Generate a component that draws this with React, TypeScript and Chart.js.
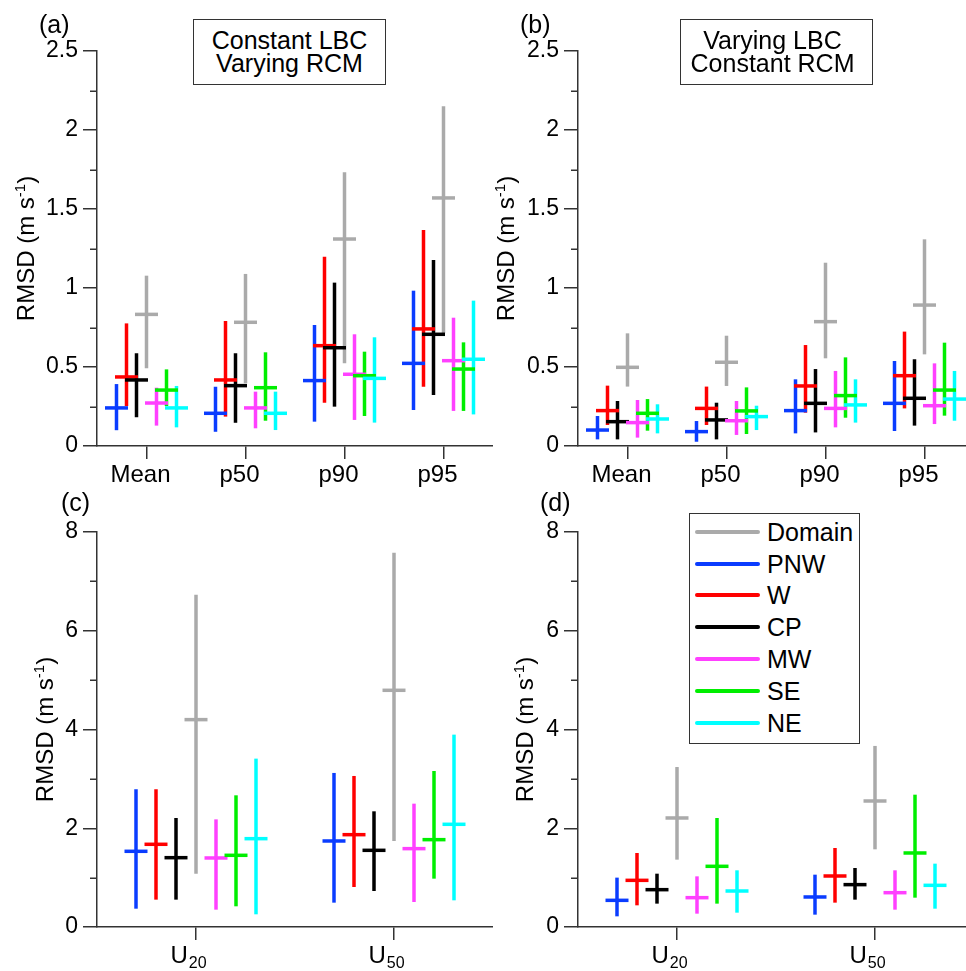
import React, { useEffect, useRef } from 'react';
import { Chart, registerables } from 'chart.js';

Chart.register(...registerables);

const FONT = "'Liberation Sans', Arial, Helvetica, sans-serif";
const AXIS = '#333333';

// ---- categories ----
const statCategories = ['Mean', 'p50', 'p90', 'p95'];
const windCategories = ['U20', 'U50'];

// series as placed left-to-right inside each category group
const seriesNames = ['PNW', 'W', 'CP', 'Domain', 'MW', 'SE', 'NE'];
const seriesColors = ['#0a3cff', '#ff0000', '#000000', '#aaaaaa', '#ff40ff', '#00ee00', '#00ffff'];
// legend order
const legendNames = ['Domain', 'PNW', 'W', 'CP', 'MW', 'SE', 'NE'];

// ---- panel (a): Constant LBC / Varying RCM  (rows follow seriesNames; cols Mean, p50, p90, p95) ----
const aMin = [
  [0.10, 0.09, 0.154, 0.228],
  [0.253, 0.186, 0.274, 0.375],
  [0.182, 0.147, 0.249, 0.323],
  [0.492, 0.397, 0.523, 0.713],
  [0.129, 0.112, 0.165, 0.222],
  [0.253, 0.16, 0.19, 0.222],
  [0.118, 0.101, 0.148, 0.2],
];
const aMax = [
  [0.392, 0.375, 0.766, 0.983],
  [0.776, 0.791, 1.198, 1.367],
  [0.587, 0.587, 1.034, 1.177],
  [1.078, 1.089, 1.732, 2.15],
  [0.369, 0.344, 0.707, 0.812],
  [0.485, 0.593, 0.597, 0.656],
  [0.38, 0.344, 0.688, 0.92],
];
const aMean = [
  [0.241, 0.207, 0.414, 0.523],
  [0.437, 0.418, 0.635, 0.741],
  [0.418, 0.382, 0.622, 0.707],
  [0.833, 0.783, 1.31, 1.57],
  [0.272, 0.241, 0.454, 0.54],
  [0.354, 0.369, 0.445, 0.487],
  [0.241, 0.207, 0.428, 0.549],
];

// ---- panel (b): Varying LBC / Constant RCM ----
const bMin = [
  [0.042, 0.027, 0.08, 0.095],
  [0.133, 0.133, 0.211, 0.238],
  [0.042, 0.042, 0.086, 0.129],
  [0.376, 0.38, 0.555, 0.58],
  [0.053, 0.07, 0.118, 0.139],
  [0.097, 0.076, 0.179, 0.192],
  [0.08, 0.101, 0.148, 0.16],
];
const bMax = [
  [0.19, 0.158, 0.422, 0.538],
  [0.382, 0.376, 0.639, 0.724],
  [0.285, 0.274, 0.487, 0.549],
  [0.713, 0.698, 1.16, 1.308],
  [0.291, 0.285, 0.475, 0.523],
  [0.297, 0.371, 0.561, 0.654],
  [0.264, 0.255, 0.422, 0.475],
];
const bMean = [
  [0.101, 0.091, 0.224, 0.27],
  [0.224, 0.238, 0.38, 0.445],
  [0.154, 0.165, 0.27, 0.302],
  [0.498, 0.53, 0.787, 0.892],
  [0.148, 0.16, 0.238, 0.255],
  [0.207, 0.222, 0.319, 0.354],
  [0.171, 0.186, 0.26, 0.297],
];

// ---- panel (c) (cols U20, U50) ----
const cMin = [
  [0.371, 0.493],
  [0.554, 0.81],
  [0.554, 0.729],
  [1.08, 1.742],
  [0.351, 0.506],
  [0.419, 0.979],
  [0.257, 0.54],
];
const cMax = [
  [2.79, 3.12],
  [2.79, 3.059],
  [2.208, 2.343],
  [6.73, 7.58],
  [2.18, 2.498],
  [2.667, 3.16],
  [3.41, 3.896],
];
const cMean = [
  [1.533, 1.742],
  [1.675, 1.87],
  [1.404, 1.553],
  [4.2, 4.794],
  [1.398, 1.587],
  [1.452, 1.769],
  [1.789, 2.08],
];

// ---- panel (d) ----
const dMin = [
  [0.216, 0.25],
  [0.439, 0.493],
  [0.473, 0.554],
  [1.364, 1.573],
  [0.27, 0.351],
  [0.473, 0.594],
  [0.29, 0.371],
];
const dMax = [
  [1.0, 1.06],
  [1.499, 1.6],
  [1.08, 1.195],
  [3.24, 3.667],
  [1.026, 1.148],
  [2.208, 2.68],
  [1.148, 1.283],
];
const dMean = [
  [0.54, 0.608],
  [0.945, 1.033],
  [0.756, 0.858],
  [2.208, 2.552],
  [0.594, 0.695],
  [1.229, 1.499],
  [0.729, 0.844],
];

type PanelProps = {
  left: number;
  top: number;
  width: number;
  height: number;
  yAxisWidth: number;
  padTop: number;
  xAxisHeight: number;
  categories: string[];
  mins: number[][];
  maxs: number[][];
  means: number[][];
  yMax: number;
  yStep: number;
  yLabelStep: number;
  subscript: boolean;
  titleOffset: number;
  labelShift: number;
};

function Panel(p: PanelProps) {
  const ref = useRef<HTMLCanvasElement>(null);

  useEffect(() => {
    const isMajor = (v: number) => Math.abs(v / p.yLabelStep - Math.round(v / p.yLabelStep)) < 1e-6;

    const datasets = seriesNames.map((name, i) => ({
      label: name,
      data: p.categories.map((_, j) => [p.mins[i][j], p.maxs[i][j]]),
      backgroundColor: seriesColors[i],
      borderWidth: 0,
      maxBarThickness: 3.5,
      barPercentage: 1,
      categoryPercentage: 0.7071,
      means: p.means[i],
    }));

    const overlay = {
      id: 'overlay',
      afterDatasetsDraw(chart: any) {
        const ctx = chart.ctx;
        const ys = chart.scales.y;
        chart.data.datasets.forEach((ds: any, i: number) => {
          const meta = chart.getDatasetMeta(i);
          meta.data.forEach((el: any, j: number) => {
            const py = ys.getPixelForValue(ds.means[j]);
            ctx.save();
            ctx.strokeStyle = ds.backgroundColor;
            ctx.lineWidth = 3.5;
            ctx.lineCap = 'butt';
            ctx.beginPath();
            ctx.moveTo(el.x - 11.5, py);
            ctx.lineTo(el.x + 11.5, py);
            ctx.stroke();
            ctx.restore();
          });
        });
      },
      afterDraw(chart: any) {
        const ctx = chart.ctx;
        const ys = chart.scales.y;
        const xs = chart.scales.x;
        const area = chart.chartArea;
        // minor y ticks
        ctx.save();
        ctx.strokeStyle = AXIS;
        ctx.lineWidth = 1.5;
        ys.ticks.forEach((t: any) => {
          if (!isMajor(t.value)) {
            const py = Math.round(ys.getPixelForValue(t.value)) + 0.25;
            ctx.beginPath();
            ctx.moveTo(area.left - 7, py);
            ctx.lineTo(area.left, py);
            ctx.stroke();
          }
        });
        ctx.restore();

        // x labels
        ctx.save();
        ctx.fillStyle = '#000';
        ctx.textBaseline = 'alphabetic';
        const baseY = area.bottom + 35.5;
        p.categories.forEach((lab, i) => {
          const cx = xs.getPixelForTick(i) + p.labelShift;
          if (p.subscript) {
            const main = lab.slice(0, 1);
            const sub = lab.slice(1);
            ctx.font = `24px ${FONT}`;
            const w1 = ctx.measureText(main).width;
            ctx.font = `16px ${FONT}`;
            const w2 = ctx.measureText(sub).width;
            const x0 = cx - (w1 + w2) / 2;
            ctx.textAlign = 'left';
            ctx.font = `24px ${FONT}`;
            ctx.fillText(main, x0, baseY);
            ctx.font = `16px ${FONT}`;
            ctx.fillText(sub, x0 + w1 + 1, baseY + 5.5);
          } else {
            ctx.font = `24px ${FONT}`;
            ctx.textAlign = 'center';
            ctx.fillText(lab, cx, baseY);
          }
        });
        ctx.restore();

        // y title, rotated, with superscript
        ctx.save();
        ctx.translate(area.left - p.titleOffset, (area.top + area.bottom) / 2);
        ctx.rotate(-Math.PI / 2);
        ctx.fillStyle = '#000';
        ctx.textAlign = 'left';
        ctx.textBaseline = 'alphabetic';
        const t1 = 'RMSD (m s';
        const t2 = '-1';
        const t3 = ')';
        ctx.font = `24px ${FONT}`;
        const w1 = ctx.measureText(t1).width;
        const w3 = ctx.measureText(t3).width;
        ctx.font = `15px ${FONT}`;
        const w2 = ctx.measureText(t2).width;
        let x0 = -(w1 + w2 + w3) / 2;
        const base = 8.6;
        ctx.font = `24px ${FONT}`;
        ctx.fillText(t1, x0, base);
        x0 += w1;
        ctx.font = `15px ${FONT}`;
        ctx.fillText(t2, x0, base - 9);
        x0 += w2;
        ctx.font = `24px ${FONT}`;
        ctx.fillText(t3, x0, base);
        ctx.restore();
      },
    };

    const chart = new Chart(ref.current as HTMLCanvasElement, {
      type: 'bar',
      data: { labels: p.categories, datasets: datasets as any },
      options: {
        responsive: false,
        animation: false,
        devicePixelRatio: 1,
        events: [],
        layout: { padding: { top: p.padTop, left: 0, right: 0, bottom: 0 } },
        plugins: {
          legend: { display: false },
          tooltip: { enabled: false },
          title: { display: false },
        },
        scales: {
          x: {
            type: 'category',
            offset: true,
            grid: {
              display: true,
              drawOnChartArea: false,
              offset: false,
              drawTicks: true,
              tickLength: 13,
              color: AXIS,
              tickColor: AXIS,
              lineWidth: 1.5,
              tickWidth: 1.5,
            },
            border: { display: true, color: AXIS, width: 1.5 },
            ticks: { display: false },
            afterFit: (s: any) => {
              s.height = p.xAxisHeight;
            },
          },
          y: {
            type: 'linear',
            min: 0,
            max: p.yMax,
            grid: {
              display: true,
              drawOnChartArea: false,
              drawTicks: true,
              tickLength: 14,
              color: AXIS,
              lineWidth: 1.5,
              tickWidth: 1.5,
              tickColor: (c: any) => (c.tick && isMajor(c.tick.value) ? AXIS : 'rgba(0,0,0,0)'),
            },
            border: { display: true, color: AXIS, width: 1.5 },
            ticks: {
              stepSize: p.yStep,
              autoSkip: false,
              padding: 5,
              color: '#000',
              font: { family: FONT, size: 23 },
              callback: (v: any) => (isMajor(Number(v)) ? String(Number(v)) : ''),
            },
            afterFit: (s: any) => {
              s.width = p.yAxisWidth;
            },
          },
        },
      } as any,
      plugins: [overlay],
    });
    return () => chart.destroy();
  }, []);

  return (
    <canvas
      ref={ref}
      width={p.width}
      height={p.height}
      style={{ position: 'absolute', left: p.left, top: p.top, width: p.width, height: p.height }}
    />
  );
}

const textBase: React.CSSProperties = {
  position: 'absolute',
  fontFamily: FONT,
  color: '#000',
  whiteSpace: 'nowrap',
};

function TitleBox({ left, lines, textShift }: { left: number; lines: string[]; textShift: number }) {
  return (
    <>
      <div
        style={{
          position: 'absolute',
          left,
          top: 19,
          width: 193,
          height: 66,
          boxSizing: 'border-box',
          border: `1.5px solid ${AXIS}`,
          background: '#fff',
        }}
      />
      <div
        style={{
          ...textBase,
          left: left + textShift,
          top: 28.5,
          width: 193,
          textAlign: 'center',
          fontSize: 25,
          lineHeight: '23.7px',
        }}
      >
        {lines.map((l) => (
          <div key={l}>{l}</div>
        ))}
      </div>
    </>
  );
}

function Legend() {
  const boxLeft = 689;
  const boxTop = 513;
  return (
    <>
      <div
        style={{
          position: 'absolute',
          left: boxLeft,
          top: boxTop,
          width: 171,
          height: 231,
          boxSizing: 'border-box',
          border: `1.5px solid ${AXIS}`,
          background: '#fff',
        }}
      />
      {legendNames.map((name, i) => {
        const cy = 531.7 + i * 31.8;
        const color = seriesColors[seriesNames.indexOf(name)];
        return (
          <React.Fragment key={name}>
            <div
              style={{
                position: 'absolute',
                left: 695,
                top: cy - 2,
                width: 65,
                height: 4,
                borderRadius: 2,
                background: color,
              }}
            />
            <div style={{ ...textBase, left: 767, top: cy - 16, height: 32, lineHeight: '32px', fontSize: 25 }}>{name}</div>
          </React.Fragment>
        );
      })}
    </>
  );
}

function PanelLabel({ left, top, text }: { left: number; top: number; text: string }) {
  return <div style={{ ...textBase, left, top, fontSize: 25, lineHeight: '25px' }}>{text}</div>;
}

export default function App() {
  return (
    <div
      style={{
        position: 'fixed',
        left: 0,
        top: 0,
        width: 966,
        height: 971,
        overflow: 'hidden',
        background: '#fff',
      }}
    >
      <Panel
        left={0}
        top={0}
        width={493}
        height={490}
        yAxisWidth={97}
        padTop={51}
        xAxisHeight={44}
        categories={statCategories}
        mins={aMin}
        maxs={aMax}
        means={aMean}
        yMax={2.5}
        yStep={0.25}
        yLabelStep={0.5}
        subscript={false}
        titleOffset={72}
        labelShift={-6}
      />
      <Panel
        left={483}
        top={0}
        width={491}
        height={490}
        yAxisWidth={95}
        padTop={51}
        xAxisHeight={44}
        categories={statCategories}
        mins={bMin}
        maxs={bMax}
        means={bMean}
        yMax={2.5}
        yStep={0.25}
        yLabelStep={0.5}
        subscript={false}
        titleOffset={73}
        labelShift={-6}
      />
      <Panel
        left={0}
        top={490}
        width={493}
        height={481}
        yAxisWidth={97}
        padTop={42}
        xAxisHeight={44}
        categories={windCategories}
        mins={cMin}
        maxs={cMax}
        means={cMean}
        yMax={8}
        yStep={1}
        yLabelStep={2}
        subscript={true}
        titleOffset={53}
        labelShift={-8}
      />
      <Panel
        left={483}
        top={490}
        width={491}
        height={481}
        yAxisWidth={95}
        padTop={42}
        xAxisHeight={44}
        categories={windCategories}
        mins={dMin}
        maxs={dMax}
        means={dMean}
        yMax={8}
        yStep={1}
        yLabelStep={2}
        subscript={true}
        titleOffset={54}
        labelShift={-8}
      />
      <TitleBox left={193} lines={['Constant LBC', 'Varying RCM']} textShift={0} />
      <TitleBox left={680} lines={['Varying LBC', 'Constant RCM']} textShift={-4} />
      <Legend />
      <PanelLabel left={39} top={12} text="(a)" />
      <PanelLabel left={520} top={12} text="(b)" />
      <PanelLabel left={61} top={490} text="(c)" />
      <PanelLabel left={540} top={490} text="(d)" />
    </div>
  );
}
